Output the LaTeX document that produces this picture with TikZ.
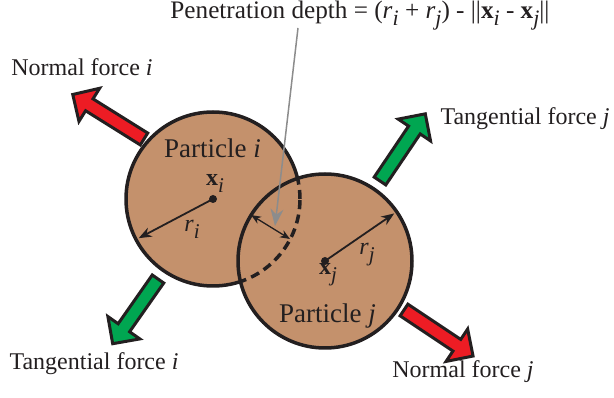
\documentclass[tikz,border=0pt]{standalone}
\usepackage{fontspec}
\setmainfont{Liberation Serif}
\usetikzlibrary{arrows.meta,calc}
\definecolor{partfill}{RGB}{196,145,108}
\definecolor{fred}{RGB}{237,28,36}
\definecolor{fgreen}{RGB}{0,166,81}
\definecolor{ink}{RGB}{35,31,32}
\definecolor{pgray}{RGB}{140,140,140}
\newcommand\sbs[1]{\raisebox{-6.5pt}{\fontsize{21}{21}\selectfont\itshape #1}}
\newcommand\sbt[1]{\raisebox{-7pt}{\fontsize{22}{22}\selectfont\itshape #1}}
% #1 tail, #2 angle, #3 length, #4 fill colour
\newcommand\blockarr[4]{%
  \begin{scope}[shift={#1}, rotate=#2]
    \draw[blockline, fill=#4] (0,-7) -- (#3-19.5,-7) -- (#3-19.5,-19.5) -- (#3,0)
      -- (#3-19.5,19.5) -- (#3-19.5,7) -- (0,7) -- cycle;
  \end{scope}}
\begin{document}
\begin{tikzpicture}[x=1pt,y=-1pt,
  blockline/.style={draw=ink, line width=3pt, line join=miter},
  lbl/.style={font=\fontsize{24}{28}\selectfont, text=ink, inner sep=0pt, anchor=base},
  tlbl/.style={font=\fontsize{25.2}{29}\selectfont, text=ink, inner sep=0pt, anchor=base},
  plbl/.style={font=\fontsize{27}{31}\selectfont, text=ink, inner sep=0pt, anchor=base},
  part/.style={fill=partfill, draw=ink, line width=3.5pt},
  radarrow/.style={draw=ink, line width=1.8pt, -{Stealth[length=13pt,width=10pt]}},
  penarrow/.style={draw=ink, line width=1.3pt, {Stealth[length=10pt,width=8pt]}-{Stealth[length=10pt,width=8pt]}},
  grayarrow/.style={draw=pgray, line width=1.5pt, -{Stealth[length=17pt,width=13pt]}}
]
\useasboundingbox (0,0) rectangle (614,398);

% particles
\coordinate (ci) at (213,199);
\coordinate (cj) at (325,261);
\draw[part] (ci) circle[radius=87pt];
\draw[part] (cj) circle[radius=87pt];
\begin{scope}
  \clip (cj) circle[radius=87pt];
  \draw[draw=ink, line width=3.5pt, dash pattern=on 9pt off 5.5pt] (ci) circle[radius=87pt];
\end{scope}

% block arrows
\blockarr{(144,139)}{148}{84}{fred}
\blockarr{(158,279)}{235}{79}{fgreen}
\blockarr{(380,181)}{56}{81}{fgreen}
\blockarr{(404,310)}{-33.7}{83}{fred}

% centres and radii
\fill[ink] (ci) circle[radius=4pt];
\fill[ink] (cj) circle[radius=4pt];
\coordinate (rie) at ($(ci)+(207.8:84pt)$);
\coordinate (rje) at ($(cj)+(34.5:84pt)$);
\draw[radarrow] (ci) -- (rie);
\draw[radarrow] (cj) -- (rje);

% penetration depth
\coordinate (pa) at (251,215);
\coordinate (pb) at (290,239);
\draw[penarrow] (pa) -- (pb);
\coordinate (gs) at (298,28);
\coordinate (gt) at (275,226);
\draw[grayarrow] (gs) -- (gt);

% labels
\node[tlbl] (title) at (360,19) {Penetration depth = (\textit{r}\sbt{i} + \textit{r}\sbt{j}) - ||\textbf{x}\sbt{i} - \textbf{x}\sbt{j}||};
\node[lbl] (nfi) at (82,76) {Normal force \textit{i}};
\node[lbl] (tfi) at (94,370) {Tangential force \textit{i}};
\node[lbl] (tfj) at (525,125) {Tangential force \textit{j}};
\node[lbl] (nfj) at (463,378) {Normal force \textit{j}};
\node[plbl] (pi) at (212.5,158) {Particle \textit{i}};
\node[plbl] (pj) at (327.5,323) {Particle \textit{j}};
\node[lbl] (xi) at (215,186) {\textbf{x}\sbs{i}};
\node[lbl] (xj) at (328,275) {\textbf{x}\sbs{j}};
\node[lbl] (ri) at (192,232) {\textit{r}\sbs{i}};
\node[lbl] (rj) at (367,255) {\textit{r}\sbs{j}};
\end{tikzpicture}
\end{document}
